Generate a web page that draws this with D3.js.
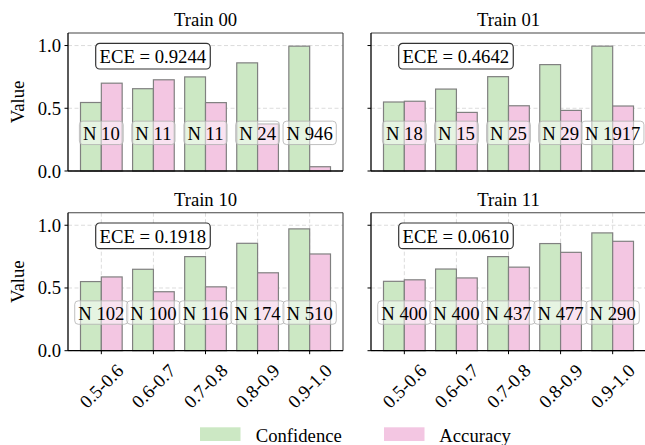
<!DOCTYPE html>
<html>
<head>
<meta charset="utf-8">
<script src="https://cdn.jsdelivr.net/npm/d3@7"></script>
<style>
  html, body { margin: 0; padding: 0; background: #fff; overflow: hidden; }
  svg { display: block; }
</style>
</head>
<body>
<svg id="chart" width="645" height="445" font-family="'Liberation Serif', 'DejaVu Serif', serif"></svg>
<script>
// ---- data ----
const bins = ["0.5-0.6", "0.6-0.7", "0.7-0.8", "0.8-0.9", "0.9-1.0"];
const panelTitles = ["Train 00", "Train 01", "Train 10", "Train 11"];
const eceValues = ["0.9244", "0.4642", "0.1918", "0.0610"];
const yTicks = [0.0, 0.5, 1.0];
const seriesNames = ["Confidence", "Accuracy"];

const conf00 = [0.546, 0.656, 0.750, 0.862, 0.995];
const acc00  = [0.700, 0.727, 0.545, 0.375, 0.034];
const n00    = [10, 11, 11, 24, 946];

const conf01 = [0.550, 0.653, 0.752, 0.848, 0.995];
const acc01  = [0.556, 0.467, 0.520, 0.483, 0.518];
const n01    = [18, 15, 25, 29, 1917];

const conf10 = [0.551, 0.649, 0.750, 0.856, 0.971];
const acc10  = [0.588, 0.470, 0.509, 0.621, 0.771];
const n10    = [102, 100, 116, 174, 510];

const conf11 = [0.553, 0.651, 0.750, 0.854, 0.939];
const acc11  = [0.565, 0.580, 0.666, 0.784, 0.872];
const n11    = [400, 400, 437, 477, 290];

const panels = [
  { title: panelTitles[0], ece: eceValues[0], conf: conf00, acc: acc00, n: n00 },
  { title: panelTitles[1], ece: eceValues[1], conf: conf01, acc: acc01, n: n01 },
  { title: panelTitles[2], ece: eceValues[2], conf: conf10, acc: acc10, n: n10 },
  { title: panelTitles[3], ece: eceValues[3], conf: conf11, acc: acc11, n: n11 }
];

// ---- style / layout ----
const FONT = 18.7;
const FAMILY = "Liberation Serif";
const colConf = "#cce8c4";
const colAcc = "#f3c6e2";
const barEdge = "#808080";
const panelW = 275, panelH = 138;
const lefts = [68, 371];
const tops = [33, 212.7];

const svg = d3.select("#chart");

function txt(sel) {
  return sel.append("text").attr("font-family", FAMILY).attr("font-size", FONT).attr("fill", "#000");
}

const x = d3.scaleLinear().domain([-0.64, 4.64]).range([0, panelW]);
const y = d3.scaleLinear().domain([0, 1.1]).range([panelH, 0]);
const barW = x(0.4) - x(0);

panels.forEach((p, i) => {
  const col = i % 2, row = Math.floor(i / 2);
  const g = svg.append("g").attr("transform", `translate(${lefts[col]},${tops[row]})`);

  // grid
  const grid = g.append("g");
  yTicks.forEach(t => {
    grid.append("line").attr("x1", 0).attr("x2", panelW)
      .attr("y1", y(t)).attr("y2", y(t))
      .attr("stroke", "#d8d8d8").attr("stroke-width", 0.9).attr("stroke-dasharray", "4,2.5");
  });
  if (row === 1) {
    bins.forEach((b, k) => {
      grid.append("line").attr("x1", x(k)).attr("x2", x(k))
        .attr("y1", 0).attr("y2", panelH)
        .attr("stroke", "#d8d8d8").attr("stroke-width", 0.9).attr("stroke-dasharray", "4,2.5");
    });
  }

  // bars
  const series = [
    { vals: p.conf, off: -0.2, color: colConf },
    { vals: p.acc, off: 0.2, color: colAcc }
  ];
  series.forEach(s => {
    g.append("g").selectAll("rect").data(s.vals).join("rect")
      .attr("x", (d, k) => x(k + s.off) - barW / 2)
      .attr("y", d => y(d))
      .attr("width", barW)
      .attr("height", d => y(0) - y(d))
      .attr("fill", s.color)
      .attr("stroke", barEdge)
      .attr("stroke-width", 1.2);
  });

  // N labels
  p.n.forEach((nv, k) => {
    const lab = g.append("g");
    const box = lab.append("rect");
    const t = txt(lab)
      .attr("x", x(k)).attr("y", y(0.3))
      .attr("text-anchor", "middle").attr("dominant-baseline", "central")
      .text("N " + nv);
    const w = t.node().getComputedTextLength();
    const bh = 23.4;
    box.attr("x", x(k) - w / 2 - 3.5).attr("y", y(0.3) - bh / 2 - 0.5)
      .attr("width", w + 7).attr("height", bh)
      .attr("rx", 3.5).attr("ry", 3.5)
      .attr("fill", "#fff").attr("fill-opacity", 0.5)
      .attr("stroke", "#b0b0b0").attr("stroke-opacity", 0.8).attr("stroke-width", 1);
  });

  // ECE box
  const eg = g.append("g");
  const ebox = eg.append("rect");
  const et = txt(eg)
    .attr("x", 31.5).attr("y", 23.4)
    .attr("dominant-baseline", "central")
    .text("ECE = " + p.ece);
  const ew = et.node().getComputedTextLength();
  ebox.attr("x", 27.7).attr("y", 10.3)
    .attr("width", ew + 8).attr("height", 25.7)
    .attr("rx", 4).attr("ry", 4)
    .attr("fill", "#fff").attr("stroke", "#333").attr("stroke-width", 1.2);

  // spines
  g.append("line").attr("x1", 0).attr("x2", panelW).attr("y1", 0).attr("y2", 0)
    .attr("stroke", "#444").attr("stroke-width", 1.1);
  g.append("line").attr("x1", panelW).attr("x2", panelW).attr("y1", 0).attr("y2", panelH)
    .attr("stroke", "#444").attr("stroke-width", 1.1);
  g.append("line").attr("x1", 0).attr("x2", 0).attr("y1", 0).attr("y2", panelH)
    .attr("stroke", "#000").attr("stroke-width", 1.3);
  g.append("line").attr("x1", 0).attr("x2", panelW).attr("y1", panelH).attr("y2", panelH)
    .attr("stroke", "#000").attr("stroke-width", 1.3);

  // y axis ticks
  yTicks.forEach(t => {
    g.append("line").attr("x1", -3.5).attr("x2", 0).attr("y1", y(t)).attr("y2", y(t))
      .attr("stroke", "#000").attr("stroke-width", 1);
    if (col === 0) {
      txt(g).attr("x", -7).attr("y", y(t))
        .attr("text-anchor", "end").attr("dominant-baseline", "central")
        .text(d3.format(".1f")(t));
    }
  });
  if (col === 0) {
    txt(g)
      .attr("transform", `translate(${17.5 - lefts[0]},${panelH / 2}) rotate(-90)`)
      .attr("text-anchor", "middle").attr("dominant-baseline", "central")
      .text("Value");
  }

  // x axis ticks (bottom row)
  if (row === 1) {
    bins.forEach((b, k) => {
      g.append("line").attr("x1", x(k)).attr("x2", x(k))
        .attr("y1", panelH).attr("y2", panelH + 3.5)
        .attr("stroke", "#000").attr("stroke-width", 1);
      const t = txt(g)
        .attr("text-anchor", "middle").attr("dominant-baseline", "central")
        .text(b);
      const w = t.node().getComputedTextLength();
      const h = 13;
      const half = (w + h) * Math.SQRT1_2 / 2;
      t.attr("transform", `translate(${x(k)},${panelH + 12 + half}) rotate(-45)`);
    });
  }

  // title
  txt(g).attr("x", panelW / 2).attr("y", -7)
    .attr("text-anchor", "middle").text(p.title);
});

// legend
const legend = svg.append("g");
const legItems = [
  { name: seriesNames[0], color: colConf, px: 200, tx: 255.7 },
  { name: seriesNames[1], color: colAcc, px: 384, tx: 439.3 }
];
legItems.forEach(it => {
  legend.append("rect").attr("x", it.px).attr("y", 427.3)
    .attr("width", 40.5).attr("height", 13.7).attr("fill", it.color);
  txt(legend).attr("x", it.tx).attr("y", 441.5).text(it.name);
});
</script>
</body>
</html>
